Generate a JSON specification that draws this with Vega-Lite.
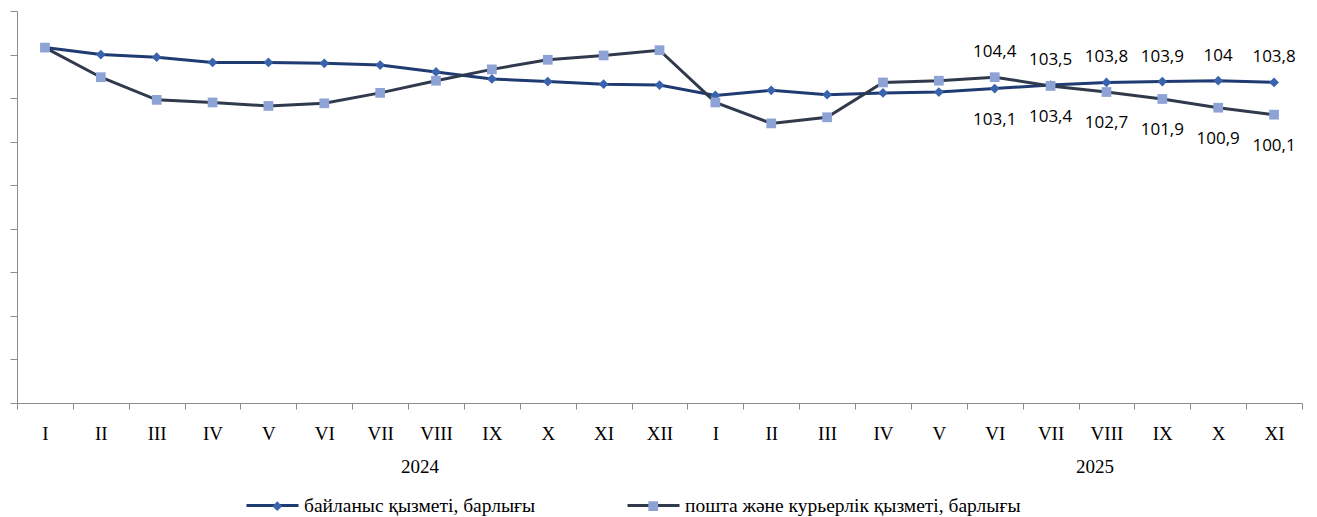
{
  "$schema": "https://vega.github.io/schema/vega-lite/v6.json",
  "width": 1285,
  "height": 392,
  "autosize": "none",
  "padding": {"left": 17, "top": 11, "right": 15, "bottom": 114},
  "config": {
    "view": {"stroke": null},
    "locale": {"number": {"decimal": ",", "thousands": " ", "grouping": [3], "currency": ["", ""]}}
  },
  "data": {
    "values": [
      {"period": "I 2024", "series": "байланыс қызметі, барлығы", "value": 107.8},
      {"period": "II 2024", "series": "байланыс қызметі, барлығы", "value": 107.0},
      {"period": "III 2024", "series": "байланыс қызметі, барлығы", "value": 106.7},
      {"period": "IV 2024", "series": "байланыс қызметі, барлығы", "value": 106.1},
      {"period": "V 2024", "series": "байланыс қызметі, барлығы", "value": 106.1},
      {"period": "VI 2024", "series": "байланыс қызметі, барлығы", "value": 106.0},
      {"period": "VII 2024", "series": "байланыс қызметі, барлығы", "value": 105.8},
      {"period": "VIII 2024", "series": "байланыс қызметі, барлығы", "value": 105.0},
      {"period": "IX 2024", "series": "байланыс қызметі, барлығы", "value": 104.2},
      {"period": "X 2024", "series": "байланыс қызметі, барлығы", "value": 103.9},
      {"period": "XI 2024", "series": "байланыс қызметі, барлығы", "value": 103.6},
      {"period": "XII 2024", "series": "байланыс қызметі, барлығы", "value": 103.5},
      {"period": "I 2025", "series": "байланыс қызметі, барлығы", "value": 102.3},
      {"period": "II 2025", "series": "байланыс қызметі, барлығы", "value": 102.9},
      {"period": "III 2025", "series": "байланыс қызметі, барлығы", "value": 102.4},
      {"period": "IV 2025", "series": "байланыс қызметі, барлығы", "value": 102.6},
      {"period": "V 2025", "series": "байланыс қызметі, барлығы", "value": 102.7},
      {"period": "VI 2025", "series": "байланыс қызметі, барлығы", "value": 103.1},
      {"period": "VII 2025", "series": "байланыс қызметі, барлығы", "value": 103.5},
      {"period": "VIII 2025", "series": "байланыс қызметі, барлығы", "value": 103.8},
      {"period": "IX 2025", "series": "байланыс қызметі, барлығы", "value": 103.9},
      {"period": "X 2025", "series": "байланыс қызметі, барлығы", "value": 104.0},
      {"period": "XI 2025", "series": "байланыс қызметі, барлығы", "value": 103.8},
      {"period": "I 2024", "series": "пошта және курьерлік қызметі, барлығы", "value": 107.8},
      {"period": "II 2024", "series": "пошта және курьерлік қызметі, барлығы", "value": 104.4},
      {"period": "III 2024", "series": "пошта және курьерлік қызметі, барлығы", "value": 101.8},
      {"period": "IV 2024", "series": "пошта және курьерлік қызметі, барлығы", "value": 101.5},
      {"period": "V 2024", "series": "пошта және курьерлік қызметі, барлығы", "value": 101.1},
      {"period": "VI 2024", "series": "пошта және курьерлік қызметі, барлығы", "value": 101.4},
      {"period": "VII 2024", "series": "пошта және курьерлік қызметі, барлығы", "value": 102.6},
      {"period": "VIII 2024", "series": "пошта және курьерлік қызметі, барлығы", "value": 104.0},
      {"period": "IX 2024", "series": "пошта және курьерлік қызметі, барлығы", "value": 105.3},
      {"period": "X 2024", "series": "пошта және курьерлік қызметі, барлығы", "value": 106.4},
      {"period": "XI 2024", "series": "пошта және курьерлік қызметі, барлығы", "value": 106.9},
      {"period": "XII 2024", "series": "пошта және курьерлік қызметі, барлығы", "value": 107.5},
      {"period": "I 2025", "series": "пошта және курьерлік қызметі, барлығы", "value": 101.5},
      {"period": "II 2025", "series": "пошта және курьерлік қызметі, барлығы", "value": 99.1},
      {"period": "III 2025", "series": "пошта және курьерлік қызметі, барлығы", "value": 99.8},
      {"period": "IV 2025", "series": "пошта және курьерлік қызметі, барлығы", "value": 103.8},
      {"period": "V 2025", "series": "пошта және курьерлік қызметі, барлығы", "value": 104.0},
      {"period": "VI 2025", "series": "пошта және курьерлік қызметі, барлығы", "value": 104.4},
      {"period": "VII 2025", "series": "пошта және курьерлік қызметі, барлығы", "value": 103.4},
      {"period": "VIII 2025", "series": "пошта және курьерлік қызметі, барлығы", "value": 102.7},
      {"period": "IX 2025", "series": "пошта және курьерлік қызметі, барлығы", "value": 101.9},
      {"period": "X 2025", "series": "пошта және курьерлік қызметі, барлығы", "value": 100.9},
      {"period": "XI 2025", "series": "пошта және курьерлік қызметі, барлығы", "value": 100.1}
    ]
  },
  "encoding": {
    "x": {
      "field": "period",
      "type": "nominal",
      "scale": {
        "type": "band",
        "paddingInner": 0,
        "paddingOuter": 0,
        "domain": ["I 2024", "II 2024", "III 2024", "IV 2024", "V 2024", "VI 2024", "VII 2024", "VIII 2024", "IX 2024", "X 2024", "XI 2024", "XII 2024", "I 2025", "II 2025", "III 2025", "IV 2025", "V 2025", "VI 2025", "VII 2025", "VIII 2025", "IX 2025", "X 2025", "XI 2025"]
      },
      "axis": {
        "title": null,
        "labelAngle": 0,
        "domainColor": "#8c8c8c",
        "tickColor": "#8c8c8c",
        "tickSize": 6,
        "tickBand": "extent",
        "labelFont": "Liberation Serif",
        "labelFontSize": 19,
        "labelColor": "#000000",
        "labelPadding": 15,
        "labelLineHeight": 33,
        "labelExpr": "datum.label == 'VIII 2024' ? ['VIII', '2024\u00a0\u00a0\u00a0\u00a0\u00a0\u00a0\u00a0\u200b'] : datum.label == 'VIII 2025' ? ['VIII', '2025\u00a0\u00a0\u00a0\u00a0\u00a0\u200b'] : split(datum.label, ' ')[0]"
      }
    },
    "y": {
      "field": "value",
      "type": "quantitative",
      "scale": {"domain": [67, 112], "nice": false, "zero": false},
      "axis": {
        "title": null,
        "labels": false,
        "grid": false,
        "values": [67, 72, 77, 82, 87, 92, 97, 102, 107, 112],
        "tickSize": 7,
        "domainColor": "#8c8c8c",
        "tickColor": "#8c8c8c"
      }
    }
  },
  "layer": [
    {
      "mark": {"type": "line", "strokeWidth": 3},
      "encoding": {
        "color": {
          "field": "series",
          "type": "nominal",
          "scale": {"range": ["#1f3b72", "#303a4c"]},
          "legend": {
            "orient": "none",
            "legendX": 228,
            "legendY": 467,
            "direction": "horizontal",
            "title": null,
            "symbolType": "M-1,0H1",
            "symbolSize": 2704,
            "symbolStrokeWidth": 3,
            "labelFont": "Liberation Serif",
            "labelFontSize": 19.5,
            "labelColor": "#000000",
            "labelOffset": 4,
            "labelLimit": 0,
            "columnPadding": 85
          }
        }
      }
    },
    {
      "mark": {"type": "point", "filled": true, "opacity": 1, "size": 95},
      "encoding": {
        "fill": {
          "field": "series",
          "type": "nominal",
          "scale": {"domain": ["байланыс қызметі, барлығы", "пошта және курьерлік қызметі, барлығы"], "range": ["#3a63ae", "#8ea3d5"]},
          "legend": {
            "orient": "none",
            "legendX": 250.5,
            "legendY": 485,
            "direction": "horizontal",
            "title": null,
            "symbolSize": 95,
            "symbolStrokeWidth": 0,
            "labelFont": "Liberation Serif",
            "labelFontSize": 19.5,
            "labelExpr": "''",
            "labelOffset": 4,
            "labelLimit": 0,
            "columnPadding": 352
          }
        },
        "shape": {
          "field": "series",
          "type": "nominal",
          "scale": {"domain": ["байланыс қызметі, барлығы", "пошта және курьерлік қызметі, барлығы"], "range": ["diamond", "square"]},
          "legend": {
            "orient": "none",
            "legendX": 250.5,
            "legendY": 485,
            "direction": "horizontal",
            "title": null,
            "symbolSize": 95,
            "symbolStrokeWidth": 0,
            "labelFont": "Liberation Serif",
            "labelFontSize": 19.5,
            "labelExpr": "''",
            "labelOffset": 4,
            "labelLimit": 0,
            "columnPadding": 352
          }
        }
      }
    },
    {
      "transform": [
        {"filter": {"field": "period", "oneOf": ["VI 2025", "VII 2025", "VIII 2025", "IX 2025", "X 2025", "XI 2025"]}},
        {"joinaggregate": [{"op": "max", "field": "value", "as": "maxv"}], "groupby": ["period"]},
        {"filter": "datum.value == datum.maxv"}
      ],
      "mark": {"type": "text", "font": "Open Sans", "fontSize": 17, "color": "#000000", "dy": -25, "baseline": "middle"},
      "encoding": {"text": {"field": "value", "type": "quantitative", "format": ".1~f"}}
    },
    {
      "transform": [
        {"filter": {"field": "period", "oneOf": ["VI 2025", "VII 2025", "VIII 2025", "IX 2025", "X 2025", "XI 2025"]}},
        {"joinaggregate": [{"op": "max", "field": "value", "as": "maxv"}], "groupby": ["period"]},
        {"filter": "datum.value < datum.maxv"}
      ],
      "mark": {"type": "text", "font": "Open Sans", "fontSize": 17, "color": "#000000", "dy": 31, "baseline": "middle"},
      "encoding": {"text": {"field": "value", "type": "quantitative", "format": ".1~f"}}
    }
  ]
}
